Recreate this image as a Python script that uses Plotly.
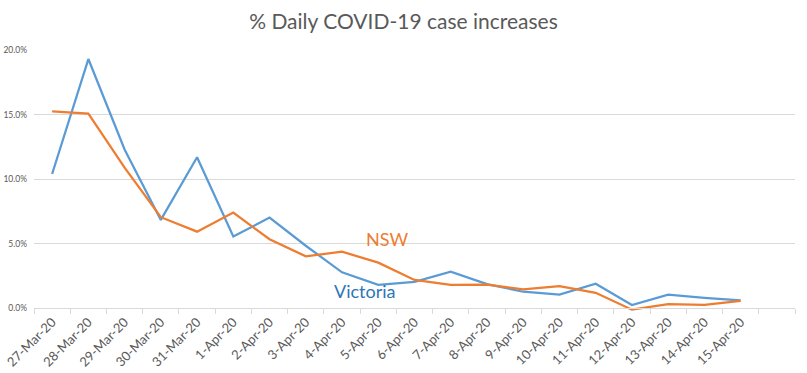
import plotly.graph_objects as go

dates = ['27-Mar-20', '28-Mar-20', '29-Mar-20', '30-Mar-20', '31-Mar-20',
         '1-Apr-20', '2-Apr-20', '3-Apr-20', '4-Apr-20', '5-Apr-20',
         '6-Apr-20', '7-Apr-20', '8-Apr-20', '9-Apr-20', '10-Apr-20',
         '11-Apr-20', '12-Apr-20', '13-Apr-20', '14-Apr-20', '15-Apr-20']
victoria = [10.4, 19.3, 12.3, 6.85, 11.7, 5.56, 7.03, 4.85, 2.79, 1.83,
            2.06, 2.84, 1.88, 1.29, 1.06, 1.91, 0.26, 1.06, 0.82, 0.62]
nsw = [15.25, 15.07, 10.9, 7.06, 5.94, 7.42, 5.35, 4.03, 4.39, 3.54,
       2.2, 1.83, 1.84, 1.47, 1.73, 1.21, -0.1, 0.33, 0.28, 0.59]
extra_category = [' ']
y_ticks = [-5, 0, 5, 10, 15, 20]

FONT = 'Lato'
GREY = '#595959'
GRID = '#d9d9d9'

fig = go.Figure()
fig.add_trace(go.Scatter(x=dates, y=victoria, mode='lines', name='Victoria',
                         line=dict(color='#5b9bd5', width=2.25)))
fig.add_trace(go.Scatter(x=dates, y=nsw, mode='lines', name='NSW',
                         line=dict(color='#ed7d31', width=2.25)))

fig.add_annotation(x=9.23, y=5.35, xref='x', yref='y', text='NSW', showarrow=False,
                   font=dict(family=FONT, size=18, color='#ed7d31'))
fig.add_annotation(x=8.63, y=1.35, xref='x', yref='y', text='Victoria', showarrow=False,
                   font=dict(family=FONT, size=18, color='#2e75b6'))

ymin, ymax = y_ticks[0], y_ticks[-1]
fig.update_layout(
    width=807, height=373,
    margin=dict(l=34, r=12, t=50, b=0),
    paper_bgcolor='white', plot_bgcolor='white',
    showlegend=False,
    title=dict(text='% Daily COVID-19 case increases', x=0.5, xanchor='center',
               y=1 - 22 / 373, yanchor='middle',
               font=dict(family=FONT, size=21, color=GREY)),
    xaxis=dict(type='category', categoryorder='array',
               categoryarray=dates + extra_category,
               range=[-0.5, len(dates) + len(extra_category) - 0.5],
               anchor='free', position=(0 - ymin) / (ymax - ymin),
               showline=True, linecolor=GRID, linewidth=1,
               ticks='outside', ticklen=5, tickcolor=GRID, tickwidth=1,
               tickson='boundaries', tickangle=-45, showgrid=False,
               tickfont=dict(family=FONT, size=13, color=GREY),
               automargin=False, zeroline=False),
    yaxis=dict(range=[ymin, ymax], tickvals=y_ticks,
               ticktext=[f'{v:.1f}%' for v in y_ticks],
               showgrid=True, gridcolor=GRID, gridwidth=1, zeroline=False,
               showline=False, ticks='', ticklabelstandoff=6,
               tickfont=dict(family=FONT, size=8.5, color=GREY),
               automargin=False),
)

fig.write_html('out.html', config={'displayModeBar': False},
               post_script="document.body.style.margin='0';document.body.style.overflow='hidden';")
